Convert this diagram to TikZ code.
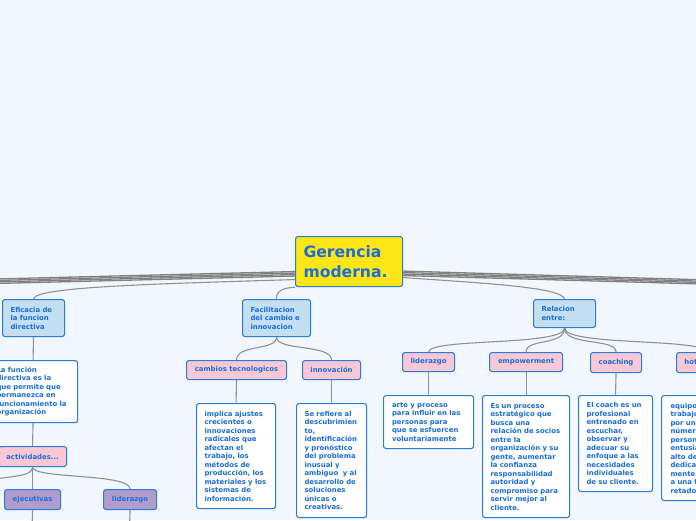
\documentclass[tikz,border=0pt]{standalone}
\usepackage{fontspec}
\setmainfont{DejaVu Sans}
\definecolor{bgc}{RGB}{242,246,254}
\definecolor{ylw}{RGB}{255,230,20}
\definecolor{lblu}{RGB}{196,222,242}
\definecolor{pnk}{RGB}{249,200,212}
\definecolor{prp}{RGB}{178,156,206}
\definecolor{bord}{RGB}{40,125,215}
\definecolor{tblu}{RGB}{25,110,215}
\definecolor{lnk}{RGB}{145,145,145}
\definecolor{bnd}{RGB}{128,128,128}
\pgfdeclarelayer{bg}
\pgfsetlayers{bg,main}
\newcommand\mmsmall{\fontsize{6.9}{8.5}\selectfont\bfseries}
\newcommand\mmbig{\fontsize{15.6}{20}\selectfont\bfseries}
\tikzset{
  boxbase/.style={draw=bord, line width=1.1pt, rounded corners=2.5pt, text=tblu, font=\mmsmall, inner ysep=0pt, anchor=north west},
  ctr/.style={boxbase, fill=ylw, font=\mmbig, align=left, inner xsep=8pt},
  topic/.style={boxbase, fill=lblu, align=left, inner xsep=8pt},
  lbl/.style={boxbase, fill=pnk, align=center, inner xsep=2pt},
  sublbl/.style={boxbase, fill=prp, align=center, inner xsep=2pt},
  note/.style={boxbase, fill=white, align=left, inner xsep=8pt, execute at begin node={\hyphenpenalty=10000\exhyphenpenalty=10000}},
  link/.style={draw=lnk, line width=1.1pt},
  band/.style={draw=bnd, line width=1.3pt},
}
\begin{document}
\begin{tikzpicture}[x=1pt,y=-1pt]
\useasboundingbox (0,0) rectangle (696,520);
% central
\node[ctr, text width=91pt, minimum height=50pt] (c) at (295,236) {Gerencia\\moderna.};
% main topics
\node[topic, text width=46pt, minimum height=37pt] (efi) at (2,299) {Eficacia de\\la funcion\\directiva};
\node[topic, text width=52pt, minimum height=37pt] (fac) at (242,299) {Facilitacion\\del cambio e\\innovacion};
\node[topic, text width=46pt, minimum height=28pt, inner xsep=8pt] (rel) at (533,299) {Relacion\\entre:};
% left branch
\node[note, text width=73pt, minimum height=62pt] (funcd) at (-12,360) {La~función\\directiva~es~la\\que~permite~que\\permanezca~en\\funcionamiento~la\\organización};
\node[lbl, minimum width=68pt, minimum height=20pt] (act) at (-2,446) {actividades...};
\node[sublbl, minimum width=56pt, minimum height=20pt] (eje) at (4,489) {ejecutivas};
\node[sublbl, minimum width=53pt, minimum height=20pt] (lid2) at (103,489) {liderazgo};
% middle branch
\node[lbl, minimum width=100pt, minimum height=19pt] (cam) at (186,360) {cambios tecnologicos};
\node[lbl, minimum width=58pt, minimum height=19pt] (inn) at (302,360) {innovación};
\node[note, text width=63pt, minimum height=105pt] (imp) at (196,403) {implica~ajustes\\crecientes~o\\innovaciones\\radicales~que\\afectan~el\\trabajo,~los\\métodos~de\\producción,~los\\materiales~y~los\\sistemas~de\\información.};
\node[note, text width=54pt, minimum height=114pt] (ser) at (296,403) {Se~refiere~al\\descubrimien\\to,\\identificación\\y~pronóstico\\del~problema\\inusual~y\\ambiguo~~y~al\\desarrollo~de\\soluciones\\únicas~o\\creativas.};
% right branch
\node[lbl, minimum width=52pt, minimum height=19pt] (lid) at (402,352) {liderazgo};
\node[lbl, minimum width=73pt, minimum height=19pt] (emp) at (489,352) {empowerment};
\node[lbl, minimum width=51pt, minimum height=20pt] (coa) at (590,352) {coaching};
\node[lbl, minimum width=58pt, minimum height=20pt] (hot) at (676,352) {hot~groups};
\node[note, text width=73pt, minimum height=53pt, inner xsep=8.5pt] (arte) at (383,395) {arte~y~proceso\\para~influir~en~las\\personas~para\\que~se~esfuercen\\voluntariamente};
\node[note, text width=71pt, minimum height=122pt] (esun) at (482,395) {Es~un~proceso\\estratégico~que\\busca~una\\relación~de~socios\\entre~la\\organización~y~su\\gente,~aumentar\\la~confianza\\responsabilidad\\autoridad~y\\compromiso~para\\servir~mejor~al\\cliente.};
\node[note, text width=58pt, minimum height=96pt] (coach) at (578,395) {El~coach~es~un\\profesional\\entrenado~en\\escuchar,\\observar~y\\adecuar~su\\enfoque~a~las\\necesidades\\individuales\\de~su~cliente.};
\node[note, text width=64pt, minimum height=105pt, inner xsep=9pt] (hotd) at (661,395) {equipos~de\\trabajo~formado\\por~un~pequeño\\número~de\\personas\\entusiastas~con\\alto~desempeño\\dedicación~total-\\mente~dedicados\\a~una~tarea\\retadora.};
% free ends
\coordinate (lb1) at (-6,279);
\coordinate (lb2) at (-6,280.5);
\coordinate (lb3) at (-6,282);
\coordinate (lb4) at (-6,283.5);
\coordinate (rb1) at (702,279.8);
\coordinate (rb2) at (702,281.2);
\coordinate (rb3) at (702,282.6);
\coordinate (rb4) at (702,284);
\coordinate (actL) at (-20,481);
\coordinate (ejeEnd) at (32,530);
\coordinate (lidEnd) at (129.5,530);
\begin{pgfonlayer}{bg}
\fill[bgc] (0,0) rectangle (696,520);
% bands
\draw[band] ([yshift=-10pt]c.west) -- (lb1);
\draw[band] ([yshift=-11.5pt]c.west) -- (lb2);
\draw[band] ([yshift=-13pt]c.west) -- (lb3);
\draw[band] ([yshift=-14.5pt]c.west) -- (lb4);
\draw[band] ([yshift=-9.5pt]c.east) -- (rb1);
\draw[band] ([yshift=-11pt]c.east) -- (rb2);
\draw[band] ([yshift=-12.5pt]c.east) -- (rb3);
\draw[band] ([yshift=-14pt]c.east) -- (rb4);
% topic links
\draw[link] ([yshift=-18pt]c.west) .. controls (150,284) and (34,287) .. (efi.north);
\draw[link] (c.south west) .. controls (281,288) and (276,292) .. (fac.north);
\draw[link] ([yshift=-16pt]c.east) .. controls (480,283) and (562,287) .. (rel.north);
% left
\draw[link] (efi.south) -- (funcd.north);
\draw[link] (funcd.south) -- (act.north);
\draw[link] (act.south) -- (eje.north);
\draw[link] (act.south) .. controls +(0,12) and +(0,-16) .. (lid2.north);
\draw[link] (act.south) .. controls +(0,10) and (10,476) .. (actL);
\draw[link] (eje.south) -- (ejeEnd);
\draw[link] (lid2.south) -- (lidEnd);
% middle
\draw[link] (fac.south) .. controls +(0,14) and +(0,-16) .. (cam.north);
\draw[link] (fac.south) .. controls +(0,14) and +(0,-16) .. (inn.north);
\draw[link] (cam.south) -- (imp.north);
\draw[link] (inn.south) -- (ser.north);
% right
\draw[link] (rel.south) .. controls +(0,18) and +(0,-14) .. (lid.north);
\draw[link] (rel.south) .. controls +(0,18) and +(0,-14) .. (emp.north);
\draw[link] (rel.south) .. controls +(0,18) and +(0,-14) .. (coa.north);
\draw[link] (rel.south) .. controls +(0,18) and +(0,-14) .. (hot.north);
\draw[link] (lid.south) -- (arte.north);
\draw[link] (emp.south) -- (esun.north);
\draw[link] (coa.south) -- (coach.north);
\draw[link] (hot.south) -- (hotd.north);
\end{pgfonlayer}
\end{tikzpicture}
\end{document}
